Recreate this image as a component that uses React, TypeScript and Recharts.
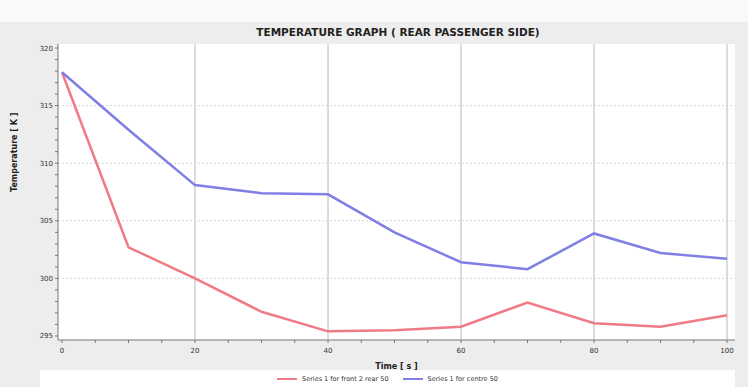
import React from "react";
import { LineChart, Line, XAxis, YAxis, ReferenceLine } from "recharts";

// time in seconds
const times = [0, 10, 20, 30, 40, 50, 60, 70, 80, 90, 100];
// temperature [K], front 2 / rear 50
const frontRear = [317.9, 302.7, 300.0, 297.1, 295.4, 295.5, 295.8, 297.9, 296.1, 295.8, 296.8];
// temperature [K], centre 50
const centre = [317.9, 312.9, 308.1, 307.4, 307.3, 304.0, 301.4, 300.8, 303.9, 302.2, 301.7];

const xTicks = [0, 5, 10, 15, 20, 25, 30, 35, 40, 45, 50, 55, 60, 65, 70, 75, 80, 85, 90, 95, 100];
const yTicks = [295, 296, 297, 298, 299, 300, 301, 302, 303, 304, 305, 306, 307, 308, 309, 310, 311, 312, 313, 314, 315, 316, 317, 318, 319, 320];
const xGrid = [20, 40, 60, 80, 100];
const yGrid = [300, 305, 310, 315];

const seriesNames = ["Series 1 for front 2 rear 50", "Series 1 for centre 50"];
const RED = "#ef7b87";
const BLUE = "#7f7fe6";

const data = times.map((t, i) => ({ t, front: frontRear[i], centre: centre[i] }));

const font = "'DejaVu Sans', sans-serif";

export default function App() {
  return (
    <div style={{ position: "absolute", left: 0, top: 0, width: 748, height: 387, background: "#ededed", fontFamily: font }}>
      <div style={{ position: "absolute", left: 0, top: 0, width: 748, height: 22, background: "#fafafa" }} />
      <div
        style={{
          position: "absolute",
          left: 0,
          top: 26,
          width: 796,
          textAlign: "center",
          fontSize: 10.5,
          fontWeight: "bold",
          color: "#222",
        }}
      >
        TEMPERATURE GRAPH ( REAR PASSENGER SIDE)
      </div>
      <div style={{ position: "absolute", left: 58, top: 44, width: 677, height: 296, background: "#fff" }} />
      <LineChart
        width={748}
        height={387}
        data={data}
        margin={{ top: 44, right: 13, bottom: 30, left: 0 }}
        style={{ position: "absolute", left: 0, top: 0 }}
      >
        {xGrid.map((v) => (
          <ReferenceLine key={"x" + v} x={v} stroke="#b8b8b8" strokeWidth={1} />
        ))}
        {yGrid.map((v) => (
          <ReferenceLine key={"y" + v} y={v} stroke="#d6d6d6" strokeWidth={1} strokeDasharray="2 2" />
        ))}
        <XAxis
          dataKey="t"
          type="number"
          domain={[-0.6, 101.2]}
          allowDataOverflow
          ticks={xTicks}
          interval={0}
          tickFormatter={(v: number) => (v % 20 === 0 ? String(v) : "")}
          tick={{ fontSize: 7, fill: "#333", fontFamily: font }}
          tickSize={3}
          tickMargin={5}
          stroke="#777"
          height={17}
          label={{ value: "Time [ s ]", position: "insideBottom", offset: -12, fontSize: 8, fontWeight: "bold", fill: "#222" }}
        />
        <YAxis
          type="number"
          domain={[294.65, 320.35]}
          allowDataOverflow
          ticks={yTicks}
          interval={0}
          tickFormatter={(v: number) => (v % 5 === 0 ? String(v) : "")}
          tick={{ fontSize: 7, fill: "#333", fontFamily: font }}
          tickSize={3}
          stroke="#777"
          width={58}
          label={{ value: "Temperature [ K ]", angle: -90, position: "insideLeft", offset: 14, fontSize: 8, fontWeight: "bold", fill: "#222" }}
        />
        <Line dataKey="front" stroke={RED} strokeWidth={2.5} dot={false} isAnimationActive={false} />
        <Line dataKey="centre" stroke={BLUE} strokeWidth={2.5} dot={false} isAnimationActive={false} />
      </LineChart>
      <div
        style={{
          position: "absolute",
          left: 40,
          top: 370,
          width: 695,
          height: 17,
          background: "#fff",
          display: "flex",
          justifyContent: "center",
          alignItems: "center",
          gap: 14,
          fontSize: 6.5,
          color: "#333",
        }}
      >
        {seriesNames.map((name, i) => (
          <span key={name} style={{ display: "flex", alignItems: "center", gap: 5 }}>
            <span style={{ display: "inline-block", width: 20, height: 2, background: i === 0 ? RED : BLUE }} />
            {name}
          </span>
        ))}
      </div>
    </div>
  );
}
